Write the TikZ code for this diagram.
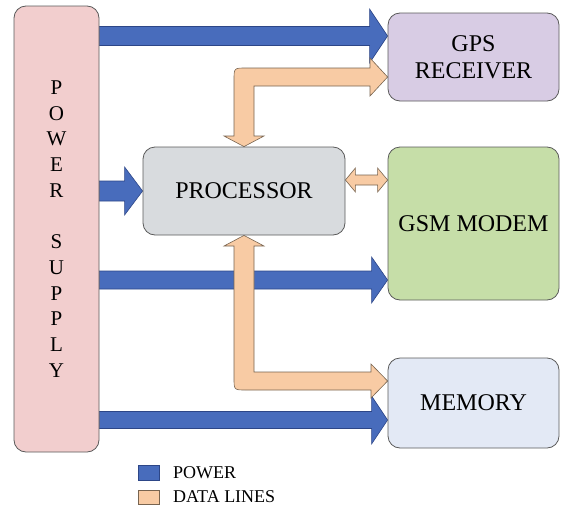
\documentclass[tikz,border=0pt]{standalone}
\usepackage{fontspec}
\setmainfont{Liberation Serif}
\usetikzlibrary{calc}
\pgfdeclarelayer{background}
\pgfsetlayers{background,main}
\definecolor{boxline}{RGB}{90,90,90}
\definecolor{psfill}{RGB}{242,206,206}
\definecolor{gpsfill}{RGB}{216,204,228}
\definecolor{procfill}{RGB}{216,219,222}
\definecolor{gsmfill}{RGB}{198,222,168}
\definecolor{memfill}{RGB}{227,233,245}
\definecolor{pwrfill}{RGB}{72,108,188}
\definecolor{pwrline}{RGB}{45,70,135}
\definecolor{datafill}{RGB}{248,203,164}
\definecolor{dataline}{RGB}{120,100,80}
% horizontal fat arrow: #1 start, #2 tip, #3 half shaft, #4 half head, #5 head length, #6 style
\newcommand\hfat[6]{\path[#6] let \p1=(#1), \p2=(#2) in
  (\x1,\y1+#3pt) -- (\x2-#5pt,\y1+#3pt) -- (\x2-#5pt,\y1+#4pt) -- (\x2,\y1)
  -- (\x2-#5pt,\y1-#4pt) -- (\x2-#5pt,\y1-#3pt) -- (\x1,\y1-#3pt) -- cycle;}
% horizontal double fat arrow
\newcommand\hdfat[6]{\path[#6] let \p1=(#1), \p2=(#2) in
  (\x1,\y1) -- (\x1+#5pt,\y1+#4pt) -- (\x1+#5pt,\y1+#3pt) -- (\x2-#5pt,\y1+#3pt) -- (\x2-#5pt,\y1+#4pt) -- (\x2,\y1)
  -- (\x2-#5pt,\y1-#4pt) -- (\x2-#5pt,\y1-#3pt) -- (\x1+#5pt,\y1-#3pt) -- (\x1+#5pt,\y1-#4pt) -- cycle;}
\begin{document}
\begin{tikzpicture}[x=1pt,y=-1pt,
  box/.style={draw=boxline, line width=0.8pt, rounded corners=12pt, inner sep=0pt,
    align=center, font=\fontsize{24}{27}\selectfont},
  pwr/.style={fill=pwrfill, draw=pwrline, line width=0.6pt},
  data/.style={fill=datafill, draw=dataline, line width=0.6pt},
  legtext/.style={anchor=west, inner sep=0pt, font=\fontsize{18}{20}\selectfont}]
\useasboundingbox (0,0) rectangle (561,506);

% boxes
\node[box, fill=psfill, minimum width=85pt, minimum height=446pt,
  font=\fontsize{21}{25.7}\selectfont] (ps) at (56.5,229)
  {P\\O\\W\\E\\R\\~\\S\\U\\P\\P\\L\\Y};
\node[box, fill=gpsfill, minimum width=171pt, minimum height=88pt] (gps) at (473.5,57) {GPS\\RECEIVER};
\node[box, fill=procfill, minimum width=202pt, minimum height=88pt] (proc) at (244,191) {PROCESSOR};
\node[box, fill=gsmfill, minimum width=171pt, minimum height=153pt] (gsm) at (473.5,223.5) {GSM MODEM};
\node[box, fill=memfill, minimum width=171pt, minimum height=90pt] (mem) at (473.5,403) {MEMORY};

% connector end points
\coordinate (p1s) at (ps.east |- 0,36);   \coordinate (p1e) at (gps.west |- 0,36);
\coordinate (p2s) at (ps.east |- 0,191);  \coordinate (p2e) at (proc.west |- 0,191);
\coordinate (p3s) at (ps.east |- 0,280);  \coordinate (p3e) at (gsm.west |- 0,280);
\coordinate (p4s) at (ps.east |- 0,420);  \coordinate (p4e) at (mem.west |- 0,420);
\coordinate (d3s) at (proc.east |- 0,180); \coordinate (d3e) at (gsm.west |- 0,180);

\begin{pgfonlayer}{background}
  % power lines
  \hfat{p1s}{p1e}{9.5}{27}{18}{pwr}
  \hfat{p2s}{p2e}{10}{24}{18}{pwr}
  \hfat{p3s}{p3e}{9}{23}{16}{pwr}
  \hfat{p4s}{p4e}{8.5}{24}{16}{pwr}
  % data lines: processor <-> GPS
  \path[data] (proc.north) -- (264,136) -- (254,136) -- (254,86) -- (370,86) -- (370,96)
    -- (gps.west |- 0,77) -- (370,58) -- (370,68) -- (246,68)
    .. controls (234,68) and (234,68) .. (234,80) -- (234,136) -- (224,136) -- cycle;
  % data lines: processor <-> memory
  \path[data] (proc.south) -- (264,246) -- (254,246) -- (254,372) -- (371,372) -- (371,364)
    -- (mem.west |- 0,381) -- (371,398) -- (371,390) -- (246,390)
    .. controls (234,390) and (234,390) .. (234,378) -- (234,246) -- (224,246) -- cycle;
  % data lines: processor <-> GSM
  \hdfat{d3s}{d3e}{5}{12}{10}{data}
\end{pgfonlayer}

% legend
\node[draw=pwrline, fill=pwrfill, minimum width=21pt, minimum height=15pt, inner sep=0pt] (lgp) at (148.5,472.5) {};
\node[legtext] (lgpt) at (173,472.5) {POWER};
\node[draw=dataline, fill=datafill, minimum width=21pt, minimum height=14pt, inner sep=0pt] (lgd) at (148.5,497) {};
\node[legtext] (lgdt) at (173,497) {DATA LINES};
\end{tikzpicture}
\end{document}
